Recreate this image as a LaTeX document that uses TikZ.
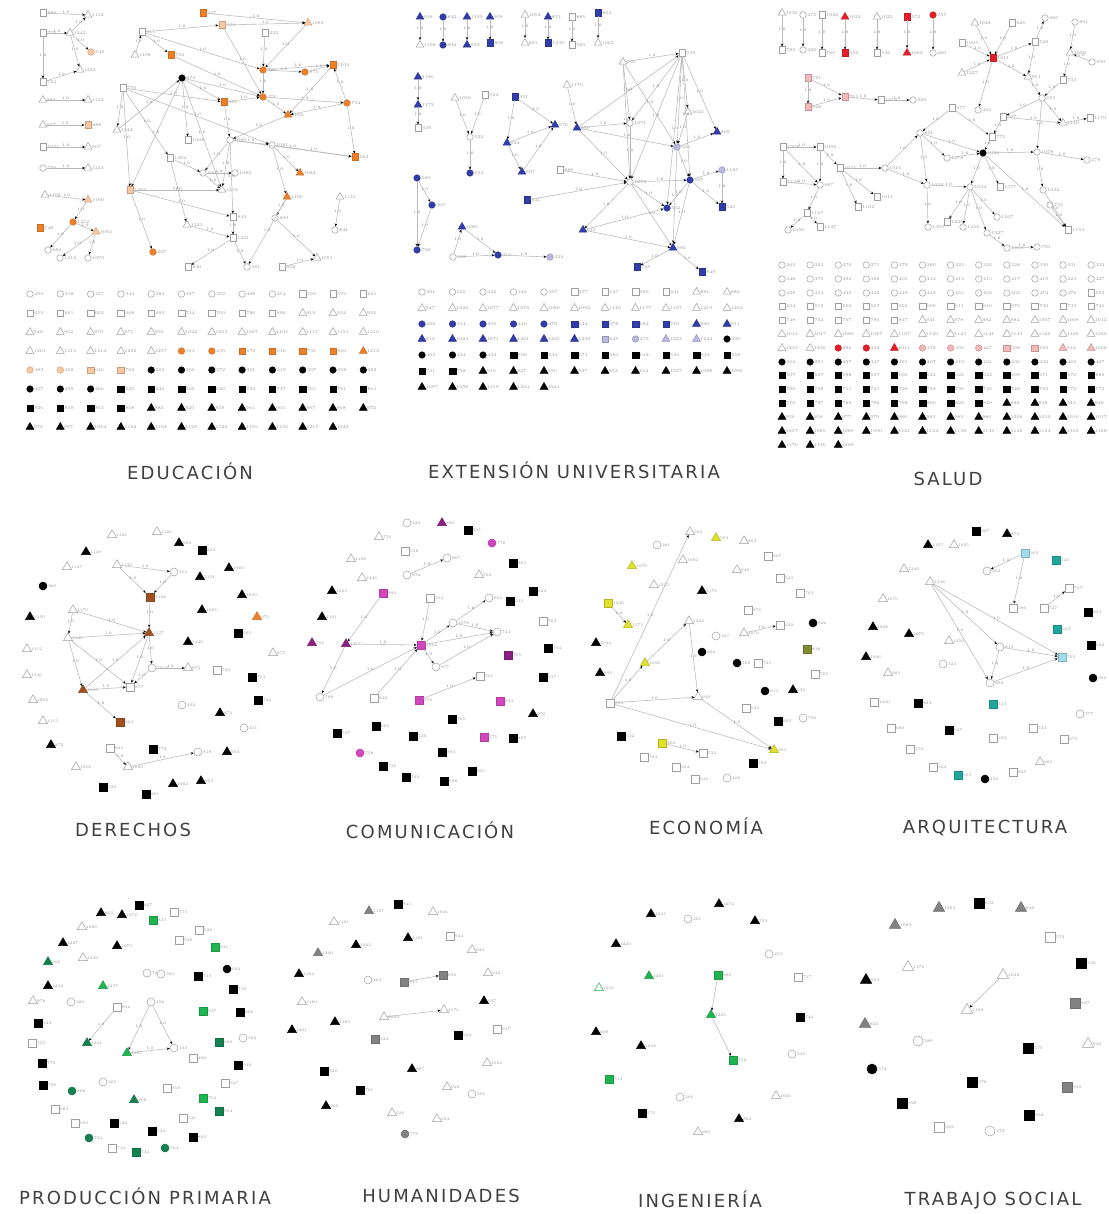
\documentclass[tikz,border=0pt]{standalone}
\usepackage{fontspec}
\newfontfamily\ttlfont[LetterSpace=12]{DejaVu Sans}
\usetikzlibrary{shapes.geometric,arrows.meta}
\definecolor{cOR}{RGB}{240,128,40}
\definecolor{cPE}{RGB}{250,200,160}
\definecolor{cBL}{RGB}{50,60,170}
\definecolor{cLV}{RGB}{185,185,225}
\definecolor{cRD}{RGB}{230,30,40}
\definecolor{cPK}{RGB}{245,185,185}
\definecolor{cBR}{RGB}{160,80,30}
\definecolor{cMG}{RGB}{210,70,190}
\definecolor{cPU}{RGB}{140,30,130}
\definecolor{cYE}{RGB}{225,225,40}
\definecolor{cOL}{RGB}{130,140,50}
\definecolor{cLC}{RGB}{160,220,235}
\definecolor{cTL}{RGB}{30,165,160}
\definecolor{cGN}{RGB}{30,180,80}
\definecolor{cDG}{RGB}{20,130,80}
\definecolor{cGY}{RGB}{130,130,130}
\def\csz{6.5pt}\def\ssz{6.5pt}\def\tsz{9pt}\def\lfs{4.4}
\tikzset{
  C/.style={circle,inner sep=0pt,minimum size=\csz,line width=0.5pt},
  S/.style={rectangle,inner sep=0pt,minimum size=\ssz,line width=0.5pt},
  T/.style={regular polygon,regular polygon sides=3,inner sep=0pt,minimum size=\tsz,line width=0.5pt},
  fOW/.style={draw=gray!75,fill=white},
  fBK/.style={draw=black,fill=black},
  fOR/.style={draw=cOR!85!black,fill=cOR},
  fPE/.style={draw=cPE!80!black,fill=cPE},
  fBL/.style={draw=cBL!85!black,fill=cBL},
  fLV/.style={draw=cLV!80!black,fill=cLV},
  fRD/.style={draw=cRD!85!black,fill=cRD},
  fPK/.style={draw=cPK!80!black,fill=cPK},
  fBR/.style={draw=cBR!85!black,fill=cBR},
  fMG/.style={draw=cMG!85!black,fill=cMG},
  fPU/.style={draw=cPU!85!black,fill=cPU},
  fYE/.style={draw=cYE!80!black,fill=cYE},
  fOL/.style={draw=cOL!80!black,fill=cOL},
  fLC/.style={draw=cLC!80!black,fill=cLC},
  fTL/.style={draw=cTL!85!black,fill=cTL},
  fGN/.style={draw=cGN!85!black,fill=cGN},
  fDG/.style={draw=cDG!85!black,fill=cDG},
  fGY/.style={draw=cGY!85!black,fill=cGY},
  fGO/.style={draw=cGN,fill=white},
  lb/.style={font=\fontsize{\lfs}{\lfs}\selectfont,text=gray!85,inner sep=0.4pt},
  ed/.style={draw=gray!55,line width=0.55pt,-{Stealth[black,length=3pt,width=2.5pt]}},
  el/.style={font=\fontsize{3.8}{4}\selectfont,text=gray!90!black,inner sep=0.3pt,above,pos=0.5},
  ttl/.style={font=\ttlfont\fontsize{18}{18}\selectfont,text=black!75,inner sep=0pt}
}
\newcommand\nd[6]{\node[#1,#2,label={[lb,label distance=0.3pt]0:#6}] (#3) at (#4,#5) {};}
\newcommand\NN[1]{\foreach \n/\s/\c/\x/\y/\l in {#1} {\nd{\s}{\c}{\n}{\x}{\y}{\l}}}
\newcommand\NL[2]{\foreach \s/\c/\x/\y/\l in {#2} {\nd{\s}{\c}{#1\l}{\x}{\y}{\l}}}
\newcommand\GR[4]{\foreach \s/\c/\l [count=\i from 0] in {#4} {\nd{\s}{\c}{g#1y#3n\i}{#1+#2*\i}{#3}{\l}}}
\newcommand\EL[1]{\foreach \a/\b in {#1} {\draw[ed] (\a) -- node[el]{1.0} (\b);}}
\newcommand\EN[1]{\foreach \a/\b in {#1} {\draw[ed] (\a) -- (\b);}}
\begin{document}
\begin{tikzpicture}[x=1pt,y=-1pt]
\fill[white] (0,0) rectangle (1108,1214);
\path[use as bounding box] (0,0) rectangle (1108,1214);

% ================= EDUCACION =================
\NN{a1/S/fOW/43/13/886, a2/T/fOW/88/15/1132, a3/S/fOW/43/33/776, a4/T/fOW/70/33/1242, a5/C/fPE/91/52/645, a6/T/fOW/80/70/1255, a7/S/fOW/43/82/784,
 b1/T/fOW/43/100/885, b2/T/fOW/88/100/1152, b3/T/fOW/43/125/957, b4/S/fPE/88/125/888, b5/S/fOW/43/147/1021, b6/T/fOW/88/147/907, b7/C/fOW/43/168/750, b8/T/fOW/88/168/1243,
 c1/T/fOW/45/195/1104, c2/T/fPE/88/200/1190, c3/S/fOR/40/228/748, c4/C/fOR/73/222/1252, c5/T/fPE/96/232/1092, c6/C/fOW/48/250/886, c7/C/fOW/60/258/1212, c8/C/fOW/88/258/1070}
\EL{a1/a2, a3/a4, a4/a5, a4/a2, a3/a7, a7/a6, a4/a6, b1/b2, b3/b4, b5/b6, b7/b8, c1/c2, c2/c4, c4/c6, c5/c7, c5/c8, c4/c5}
\NN{e1/S/fOR/203/13/237, e2/S/fPE/222/25/604, e3/T/fPE/308/23/1083, e4/S/fOW/142/32/911, e5/T/fOW/135/55/1108, e6/S/fOR/171/55/792,
 e7/S/fOW/265/33/222, e8/C/fOR/263/70/722, e9/C/fOR/305/72/875, e10/S/fOR/333/65/1104, e11/C/fBK/182/78/873, e12/S/fOW/123/88/770,
 e13/S/fOR/224/102/985, e14/C/fOR/263/97/376, e15/C/fOR/347/103/734, e16/T/fOR/288/115/1025, e17/T/fOW/117/130/1244, e18/S/fOW/188/140/1008,
 e19/C/fOW/230/140/1080, e20/C/fOW/272/145/1081, e21/S/fOR/355/157/584, e22/S/fOW/170/158/1202, e23/T/fOR/300/173/1084, e24/C/fOW/203/173/1061,
 e25/C/fOW/235/173/1082, e26/S/fPE/130/190/1062, e27/T/fOW/222/190/1232, e28/T/fOR/287/197/1106, e29/T/fOW/340/197/1133, e30/S/fOW/233/217/843,
 e31/T/fOW/187/225/1243, e32/C/fOW/275/218/890, e33/C/fOW/335/230/841, e34/S/fOW/233/238/1231, e35/C/fOR/153/252/267, e36/S/fOW/188/267/840,
 e37/C/fOW/247/267/361, e38/S/fOW/282/267/562, e39/T/fOW/317/258/1091}
\EL{e1/e3, e2/e3, e4/e2, e5/e4, e4/e6, e4/e8, e6/e14, e2/e14, e7/e8, e8/e9, e8/e10, e9/e10, e8/e14, e11/e13, e11/e14, e11/e18, e11/e26, e11/e27,
 e12/e13, e12/e17, e12/e20, e12/e22, e12/e26, e13/e14, e13/e19, e14/e16, e14/e15, e15/e16, e15/e21, e15/e10, e16/e19, e19/e20, e19/e24,
 e19/e21, e19/e27, e19/e30, e20/e23, e20/e21, e20/e28, e22/e24, e22/e31, e24/e25, e24/e27, e26/e27, e26/e30, e26/e35, e28/e32, e28/e37,
 e29/e33, e30/e34, e31/e34, e34/e36, e34/e37, e32/e39, e38/e39, e17/e11, e10/e16, e3/e8}
\GR{30}{30.3}{294}{C/fOW/299,C/fOW/318,C/fOW/327,C/fOW/343,C/fOW/384,C/fOW/387,C/fOW/392,C/fOW/408,C/fOW/454,S/fOW/565,S/fOW/576,S/fOW/631}
\GR{30}{30.3}{313}{S/fOW/655,S/fOW/661,S/fOW/662,S/fOW/668,S/fOW/693,S/fOW/714,S/fOW/760,S/fOW/786,S/fOW/806,T/fOW/919,T/fOW/924,T/fOW/932}
\GR{30}{30.3}{332}{T/fOW/940,T/fOW/952,T/fOW/970,T/fOW/971,T/fOW/995,T/fOW/1022,T/fOW/1063,T/fOW/1067,T/fOW/1105,T/fOW/1117,T/fOW/1151,T/fOW/1210}
\GR{30}{30.3}{351}{T/fOW/1201,T/fOW/1213,T/fOW/1214,T/fOW/1236,T/fOW/1257,C/fOR/363,C/fOR/439,S/fOR/576,S/fOR/610,S/fOR/735,S/fOR/860,T/fOR/1212}
\GR{30}{30.3}{370}{C/fPE/383,C/fPE/458,S/fPE/646,S/fPE/782,C/fBK/265,C/fBK/266,C/fBK/272,C/fBK/301,C/fBK/319,C/fBK/337,C/fBK/358,C/fBK/362}
\GR{30}{30.3}{389}{C/fBK/457,C/fBK/459,C/fBK/466,S/fBK/525,S/fBK/546,S/fBK/565,S/fBK/629,S/fBK/734,S/fBK/737,S/fBK/763,S/fBK/791,S/fBK/811}
\GR{30}{30.3}{408}{S/fBK/826,S/fBK/839,S/fBK/853,S/fBK/858,T/fBK/885,T/fBK/920,T/fBK/939,T/fBK/961,T/fBK/965,T/fBK/967,T/fBK/968,T/fBK/972}
\GR{30}{30.3}{427}{T/fBK/973,T/fBK/997,T/fBK/1054,T/fBK/1102,T/fBK/1104,T/fBK/1125,T/fBK/1126,T/fBK/1155,T/fBK/1156,T/fBK/1215,T/fBK/1248}
\node[ttl] (tEdu) at (190,471) {EDUCACIÓN};

% ================= EXTENSION =================
\NN{x1/T/fBL/420/17/918, x2/T/fOW/420/45/1198, x3/C/fBL/443/17/842, x4/C/fBL/443/45/902, x5/T/fBL/467/17/1199, x6/T/fBL/467/45/932,
 x7/T/fBL/490/17/909, x8/S/fBL/490/43/808, x9/T/fOW/525/15/1094, x10/T/fOW/525/43/891, x11/T/fBL/548/17/853, x12/S/fBL/548/43/1236,
 x13/S/fOW/572/17/885, x14/S/fOW/572/45/580, x15/S/fBL/598/13/804, x16/T/fOW/598/43/1062,
 x17/T/fBL/418/77/1186, x18/T/fBL/418/105/1172, x19/S/fOW/418/128/659,
 x20/T/fOW/455/98/1050, x21/S/fOW/485/95/524, x22/C/fOW/470/137/522, x23/C/fBL/470/173/594,
 x24/S/fBL/515/97/931, x25/T/fBL/507/143/924, x26/T/fBL/555/125/570, x27/T/fBL/522/172/907,
 x28/C/fBL/417/178/580, x29/C/fBL/432/205/305, x30/C/fBL/417/250/798,
 x31/T/fBL/462/227/1080, x32/C/fOW/453/257/589, x33/C/fBL/498/255/416, x34/C/fLV/550/257/324}
\EL{x1/x2, x3/x4, x5/x6, x7/x8, x9/x10, x11/x12, x13/x14, x15/x16, x17/x18, x18/x19, x20/x22, x21/x22, x22/x23,
 x24/x25, x24/x26, x25/x26, x25/x27, x27/x26, x28/x29, x29/x30, x28/x30, x32/x31, x31/x33, x32/x33, x33/x34}
\NN{m1/S/fOW/560/170/886, m2/S/fBL/527/200/541, m3/T/fOW/567/85/1176, m4/T/fBL/577/128/870, m5/T/fOW/623/62/905, m6/S/fOW/682/53/559,
 m7/T/fOW/688/112/1025, m8/T/fBL/717/132/869, m9/C/fOW/630/123/1071, m10/C/fLV/677/147/656, m11/C/fOW/630/182/1073, m12/C/fBL/690/180/997,
 m13/C/fLV/722/170/1185, m14/S/fBL/722/207/526, m15/C/fBL/667/208/562, m16/T/fBL/583/230/623, m17/T/fBL/673/248/995, m18/S/fBL/637/267/725,
 m19/S/fBL/702/272/849}
\EL{m3/m4, m4/m9, m4/m10, m4/m6, m4/m11, m5/m6, m5/m9, m5/m10, m5/m11, m6/m9, m6/m7, m6/m8, m6/m10, m6/m12, m6/m11, m6/m15,
 m7/m10, m10/m8, m10/m12, m10/m17, m9/m11, m11/m12, m1/m11, m2/m11, m11/m16, m11/m15, m11/m17, m12/m14, m12/m13, m13/m14,
 m16/m15, m16/m17, m12/m17, m17/m18, m17/m19, m12/m15}
\GR{422}{30.5}{292}{C/fOW/301,C/fOW/325,C/fOW/342,C/fOW/346,C/fOW/357,S/fOW/477,S/fOW/547,S/fOW/589,S/fOW/641,T/fOW/881,T/fOW/886}
\GR{422}{30.5}{308}{T/fOW/947,T/fOW/1020,T/fOW/1077,T/fOW/1079,T/fOW/1080,T/fOW/1092,T/fOW/1146,T/fOW/1177,T/fOW/1197,T/fOW/1219,T/fOW/1252}
\GR{422}{30.5}{324}{C/fBL/268,C/fBL/314,C/fBL/369,C/fBL/440,C/fBL/470,S/fBL/544,S/fBL/678,S/fBL/682,S/fBL/750,T/fBL/890,T/fBL/911}
\GR{422}{30.5}{339}{T/fBL/913,T/fBL/1024,T/fBL/1071,T/fBL/1201,T/fBL/1205,T/fBL/1238,S/fLV/545,C/fLV/473,T/fLV/1223,T/fLV/1224,C/fBK/336}
\GR{422}{30.5}{355}{C/fBK/403,C/fBK/424,C/fBK/434,S/fBK/500,S/fBK/534,S/fBK/571,S/fBK/583,S/fBK/618,S/fBK/625,S/fBK/643,S/fBK/658}
\GR{422}{30.5}{371}{S/fBK/731,S/fBK/758,T/fBK/910,T/fBK/927,T/fBK/930,T/fBK/937,T/fBK/953,T/fBK/954,T/fBK/1027,T/fBK/1088,T/fBK/1095}
\GR{422}{30.5}{387}{T/fBK/1097,T/fBK/1098,T/fBK/1159,T/fBK/1204,T/fBK/1241}
\node[ttl] (tExt) at (574,470) {EXTENSIÓN UNIVERSITARIA};

% ================= SALUD =================
\NN{s1/T/fOW/782/13/1035, s2/S/fOW/782/50/783, s3/C/fOW/803/15/475, s4/C/fOW/803/50/426, s5/S/fOW/822/15/1026, s6/S/fOW/822/53/766,
 s7/T/fRD/845/17/1024, s8/S/fRD/845/53/559, s9/T/fOW/877/17/1025, s10/S/fOW/877/53/536, s11/S/fRD/907/17/572, s12/T/fRD/907/53/1063,
 s13/C/fRD/933/15/757, s14/C/fOW/933/53/280,
 p1/S/fPK/808/78/751, p2/S/fPK/808/107/928, p3/S/fPK/845/97/763, p4/S/fOW/881/100/1019, p5/C/fOW/913/100/329}
\EL{s1/s2, s3/s4, s5/s6, s7/s8, s9/s10, s11/s12, s13/s14, p1/p2, p1/p3, p2/p3, p3/p4, p4/p5}
\NN{h1/T/fOW/975/23/1028, h2/S/fOW/1012/23/826, h3/C/fOW/1045/18/906, h4/C/fOW/1075/22/891, h5/S/fOW/962/43/1005, h6/S/fRD/993/58/1011,
 h7/T/fOW/962/73/1227, h8/S/fOW/1035/42/528, h9/T/fOW/1070/53/1059, h10/C/fOW/1092/62/990, h11/T/fOW/1028/77/951, h12/S/fOW/1063/80/733,
 h13/C/fOW/1042/98/659, h14/S/fOW/952/108/377, h15/C/fOW/978/110/435, h16/S/fOW/1003/117/737, h17/T/fOW/1063/123/1149, h18/S/fOW/1090/118/1170,
 h19/C/fOW/920/133/851, h20/S/fOW/992/137/775, h21/C/fBK/983/153/1026, h22/C/fOW/947/158/1278, h23/C/fOW/1037/152/1078, h24/C/fOW/1087/160/278,
 h25/S/fOW/783/147/1208, h26/S/fOW/820/147/1092, h27/S/fOW/840/168/1021, h28/C/fOW/885/168/1016, h29/S/fOW/783/182/1128, h30/C/fOW/820/185/887,
 h31/C/fOW/927/185/1029, h32/C/fOW/970/187/1034, h33/S/fOW/1000/187/1077, h34/C/fOW/1043/190/1032, h35/S/fOW/877/197/1011, h36/S/fOW/858/207/1102,
 h37/S/fOW/807/213/1167, h38/C/fOW/788/230/1056, h39/S/fOW/820/227/1147, h40/C/fOW/928/227/1303, h41/S/fOW/947/222/1226, h42/C/fOW/963/227/1255,
 h43/C/fOW/997/217/1267, h44/C/fOW/987/233/1327, h45/C/fOW/1007/248/1018, h46/C/fOW/1037/247/790, h47/S/fOW/1068/230/1153, h48/C/fOW/1050/205/735}
\EL{h5/h6, h7/h6, h1/h6, h2/h6, h6/h8, h8/h3, h6/h11, h6/h15, h8/h11, h9/h12, h10/h9, h4/h9, h12/h13, h11/h13, h13/h16, h13/h17, h16/h17,
 h17/h18, h13/h23, h14/h19, h14/h20, h16/h20, h20/h21, h19/h21, h19/h22, h19/h31, h22/h21, h21/h23, h23/h24, h21/h33, h21/h32, h21/h47,
 h23/h34, h25/h26, h25/h29, h25/h30, h26/h30, h26/h27, h27/h28, h29/h30, h30/h37, h27/h36, h27/h35, h28/h19, h28/h31, h31/h32,
 h31/h40, h32/h41, h32/h42, h32/h43, h32/h44, h44/h45, h45/h46, h37/h38, h37/h39, h34/h47, h48/h47}
\GR{782}{28.1}{265}{C/fOW/263,C/fOW/264,C/fOW/270,C/fOW/271,C/fOW/279,C/fOW/280,C/fOW/323,C/fOW/326,C/fOW/328,C/fOW/330,C/fOW/331,C/fOW/333}
\GR{782}{28.1}{279}{C/fOW/348,C/fOW/375,C/fOW/386,C/fOW/388,C/fOW/405,C/fOW/412,C/fOW/413,C/fOW/415,C/fOW/417,C/fOW/419,C/fOW/423,C/fOW/427}
\GR{782}{28.1}{293}{C/fOW/428,C/fOW/433,C/fOW/436,C/fOW/442,C/fOW/448,C/fOW/449,C/fOW/455,C/fOW/456,C/fOW/462,C/fOW/474,C/fOW/476,S/fOW/502}
\GR{782}{28.1}{306}{S/fOW/504,S/fOW/519,S/fOW/566,S/fOW/567,S/fOW/593,S/fOW/609,S/fOW/611,S/fOW/616,S/fOW/679,S/fOW/730,S/fOW/733,S/fOW/741}
\GR{782}{28.1}{320}{S/fOW/748,S/fOW/752,S/fOW/757,S/fOW/786,S/fOW/817,T/fOW/941,T/fOW/978,T/fOW/982,T/fOW/984,T/fOW/1007,T/fOW/1009,T/fOW/1012}
\GR{782}{28.1}{334}{T/fOW/1013,T/fOW/1047,T/fOW/1086,T/fOW/1087,T/fOW/1107,T/fOW/1120,T/fOW/1123,T/fOW/1141,T/fOW/1143,T/fOW/1166,T/fOW/1169,T/fOW/1200}
\GR{782}{28.1}{348}{T/fOW/1233,T/fOW/1256,C/fRD/286,C/fRD/344,T/fRD/1011,C/fPK/376,C/fPK/395,C/fPK/447,S/fPK/598,S/fPK/599,T/fPK/912,T/fPK/1008}
\GR{782}{28.1}{362}{C/fBK/262,C/fBK/291,C/fBK/297,C/fBK/347,C/fBK/391,C/fBK/407,C/fBK/416,C/fBK/421,C/fBK/430,C/fBK/432,C/fBK/462,C/fBK/467}
\GR{782}{28.1}{375}{S/fBK/507,S/fBK/567,S/fBK/588,S/fBK/597,S/fBK/606,S/fBK/624,S/fBK/625,S/fBK/642,S/fBK/669,S/fBK/671,S/fBK/672,S/fBK/683}
\GR{782}{28.1}{389}{S/fBK/706,S/fBK/708,S/fBK/711,S/fBK/721,S/fBK/726,S/fBK/729,S/fBK/736,S/fBK/745,S/fBK/748,S/fBK/756,S/fBK/772,S/fBK/775}
\GR{782}{28.1}{403}{S/fBK/776,S/fBK/787,S/fBK/789,S/fBK/796,S/fBK/798,S/fBK/800,S/fBK/829,S/fBK/849,T/fBK/888,T/fBK/938,T/fBK/943,T/fBK/949}
\GR{782}{28.1}{417}{T/fBK/956,T/fBK/958,T/fBK/977,T/fBK/979,T/fBK/980,T/fBK/983,T/fBK/985,T/fBK/986,T/fBK/1008,T/fBK/1010,T/fBK/1016,T/fBK/1017}
\GR{782}{28.1}{431}{T/fBK/1057,T/fBK/1085,T/fBK/1089,T/fBK/1090,T/fBK/1121,T/fBK/1124,T/fBK/1138,T/fBK/1139,T/fBK/1140,T/fBK/1164,T/fBK/1165,T/fBK/1168}
\GR{782}{28.1}{445}{T/fBK/1176,T/fBK/1196,T/fBK/1209}
\node[ttl] (tSal) at (948,479) {SALUD};

% ================= DERECHOS =================
\begin{scope}
\def\csz{8pt}\def\ssz{8pt}\def\tsz{10.5pt}\def\lfs{4}
\NL{d}{T/fOW/112/535/1125, T/fOW/157/532/1126, T/fBK/179/543/906, S/fBK/202/550/852, T/fBK/86/552/1149, T/fOW/67/567/1147, T/fOW/117/565/1130,
 C/fOW/174/572/405, T/fBK/200/577/1131, T/fBK/229/568/1066, C/fBK/43/586/380, S/fBR/150/597/1128, T/fBK/242/595/1059, T/fOW/73/610/1176,
 T/fBK/30/617/1150, T/fBK/202/610/1065, T/fOR/257/617/871, T/fBR/149/633/1127, S/fBK/238/633/905, T/fOW/68/638/1145, T/fBK/188/642/1140,
 T/fOW/27/649/1112, T/fOW/273/653/875, C/fOW/152/668/1013, T/fOW/188/668/873, S/fOW/217/670/726, T/fOW/27/675/1146, S/fBK/252/677/763,
 T/fBR/83/690/1003, S/fOW/130/687/877, T/fOW/33/700/1062, S/fBK/258/700/722, C/fOW/182/705/452, T/fBK/220/713/874, S/fBR/120/722/663,
 T/fOW/43/721/1113, C/fOW/244/728/451, T/fBK/51/745/872, S/fOW/110/748/893, S/fBK/153/749/772, C/fOW/198/752/818, T/fBK/227/752/903,
 T/fOW/76/767/1058, T/fOW/128/767/1060, T/fBK/173/784/1082, T/fBK/201/781/963, S/fBK/103/787/720, S/fBK/146/794/801}
\EL{d1130/d405, d405/d1128, d1130/d1128, d1128/d1127, d1176/d1127, d1145/d1127, d1176/d1145, d1145/d1003, d1145/d877, d1003/d1127,
 d1127/d1013, d1127/d877, d1013/d877, d1013/d873, d1003/d877, d1003/d663, d893/d1060, d1060/d818}
\end{scope}
\node[ttl] (tDer) at (133,830) {DERECHOS};

% ================= COMUNICACION =================
\begin{scope}
\def\csz{8pt}\def\ssz{8pt}\def\tsz{10.5pt}\def\lfs{4}
\NL{k}{C/fOW/407/523/240, T/fPU/442/523/890, S/fBK/468/530/911, T/fOW/379/537/756, C/fMG/492/543/778, S/fOW/405/551/538, T/fOW/351/559/1108,
 C/fOW/447/558/807, S/fBK/513/563/853, C/fOW/407/575/872, T/fOW/479/575/762, T/fOW/362/578/1246, T/fBK/332/591/1023, S/fMG/383/593/892,
 S/fBK/533/591/824, S/fOW/430/598/554, C/fOW/489/598/865, S/fBK/510/601/535, T/fBK/322/617/1161, S/fOW/543/621/704, C/fOW/453/623/1078,
 C/fOW/497/632/743, T/fPU/312/643/766, T/fPU/346/644/1217, S/fMG/421/645/1064, S/fBK/548/648/794, S/fPU/508/655/755, C/fOW/436/667/877,
 S/fBK/543/677/917, S/fOW/480/676/565, C/fOW/320/697/788, S/fOW/374/698/820, S/fMG/419/700/956, S/fMG/500/701/833, T/fBK/533/714/970,
 S/fBK/452/719/785, S/fBK/337/733/597, S/fBK/376/726/905, S/fBK/413/736/726, S/fMG/484/737/775, S/fBK/513/738/867, C/fMG/360/753/738,
 S/fBK/442/752/893, S/fBK/383/766/736, S/fBK/472/771/851, S/fBK/406/777/792, S/fBK/444/781/598}
\EL{k872/k807, k892/k1217, k1217/k788, k1217/k1064, k554/k1064, k788/k1064, k820/k1064, k1064/k1078, k1078/k865, k1064/k743,
 k1078/k743, k1064/k877, k877/k743, k956/k565}
\end{scope}
\node[ttl] (tCom) at (430,830) {COMUNICACIÓN};

% ================= ECONOMIA =================
\begin{scope}
\def\csz{8pt}\def\ssz{8pt}\def\tsz{10.5pt}\def\lfs{4}
\NL{q}{T/fOW/690/532/902, T/fYE/716/538/503, T/fOW/744/541/804, C/fOW/657/545/281, S/fOW/768/556/807, T/fOW/683/560/1082, T/fYE/632/566/1078,
 T/fOW/737/570/940, S/fOW/780/578/523, T/fOW/654/585/1225, T/fBK/702/591/1176, S/fOW/800/593/763, S/fYE/608/603/1236, S/fOW/748/610/876,
 T/fOW/689/621/1222, T/fYE/628/625/1173, C/fOW/716/636/367, T/fOW/744/633/1070, S/fOW/780/625/620, C/fBK/813/623/822, T/fBK/596/643/1034,
 C/fBK/702/652/836, S/fOL/807/649/838, T/fYE/645/663/1068, C/fBK/737/663/768, S/fOW/758/663/723, T/fBK/600/673/895, S/fOW/815/674/705,
 C/fBK/765/691/813, T/fBK/793/690/936, T/fOW/698/697/930, S/fOW/610/703/814, S/fOW/746/708/645, S/fBK/778/721/903, C/fOW/803/718/790,
 S/fBK/621/736/632, S/fYE/662/743/802, S/fOW/703/753/532, T/fYE/774/750/803, S/fBK/753/763/783, S/fOW/644/757/704, S/fOW/676/767/604,
 S/fOW/695/779/646, C/fOW/727/778/400}
\EL{q814/q902, q1236/q1173, q1070/q620, q814/q1068, q1068/q1222, q1222/q930, q814/q930, q814/q803, q930/q803, q802/q532}
\end{scope}
\node[ttl] (tEco) at (706,826) {ECONOMÍA};

% ================= ARQUITECTURA =================
\begin{scope}
\def\csz{8pt}\def\ssz{8pt}\def\tsz{10.5pt}\def\lfs{4}
\NL{r}{S/fBK/976/531/907, T/fBK/1007/534/876, T/fBK/928/545/1157, T/fOW/954/545/1025, S/fLC/1025/553/963, S/fTL/1056/560/525, T/fOW/904/569/1240,
 C/fOW/987/571/902, T/fOW/930/582/1238, S/fOW/1069/588/767, T/fOW/883/599/1076, S/fOW/1013/608/580, S/fOW/1044/608/527, S/fBK/1088/612/953,
 S/fTL/1057/629/663, T/fBK/873/627/1028, T/fBK/909/634/1075, T/fOW/949/641/1250, C/fOW/1000/647/813, S/fBK/1091/645/548, T/fBK/866/657/1096,
 S/fLC/1062/657/763, C/fOW/943/664/323, T/fOW/888/673/983, C/fOW/990/683/888, C/fBK/1093/678/396, S/fOW/874/702/1200, S/fBK/918/703/884,
 S/fTL/993/704/513, C/fOW/1080/714/777, S/fOW/891/728/680, S/fBK/949/730/627, S/fOW/1033/728/723, S/fOW/993/738/633, S/fOW/1064/739/673,
 S/fOW/910/749/570, T/fOW/1040/762/985, S/fOW/933/767/604, S/fTL/958/775/603, S/fOW/1013/772/825, C/fBK/985/779/450}
\EL{r963/r902, r963/r580, r527/r767, r1238/r813, r1238/r888, r1238/r763, r813/r888, r813/r763, r888/r763}
\end{scope}
\node[ttl] (tArq) at (985,828) {ARQUITECTURA};

% ================= PRODUCCION PRIMARIA =================
\begin{scope}
\def\csz{8pt}\def\ssz{8pt}\def\tsz{10.5pt}\def\lfs{4}
\NL{p}{S/fBK/139/905/827, T/fBK/101/913/862, T/fBK/122/915/1072, S/fGN/153/920/837, S/fOW/174/912/773, T/fOW/82/927/1089, S/fOW/199/930/526,
 T/fBK/63/943/1227, T/fBK/117/946/1073, S/fOW/179/940/538, S/fGN/215/947/841, T/fDG/48/962/950, T/fOW/83/958/1239, C/fOW/147/973/723,
 C/fOW/161/974/382, C/fBK/227/969/924, S/fBK/198/976/713, T/fGN/103/986/1237, T/fBK/48/986/1234, S/fBK/233/989/718, T/fOW/33/1001/878,
 C/fOW/71/1002/380, S/fOW/117/1007/832, C/fOW/151/1002/458, S/fGN/203/1011/937, S/fBK/240/1012/906, S/fBK/38/1023/944, T/fDG/87/1043/1221,
 T/fGN/127/1053/1087, C/fOW/174/1048/333, S/fOW/32/1043/753, S/fDG/219/1042/989, C/fOW/243/1038/384, S/fOW/193/1058/490, S/fBK/42/1063/776,
 S/fBK/238/1065/940, S/fBK/43/1085/700, C/fDG/72/1091/868, C/fOW/103/1082/305, S/fOW/167/1088/859, S/fOW/225/1083/527, T/fDG/134/1100/908,
 S/fGN/203/1098/752, S/fOW/55/1109/983, S/fDG/219/1111/994, S/fOW/75/1123/656, S/fBK/114/1123/522, S/fOW/183/1118/521, S/fBK/152/1131/534,
 S/fBK/193/1137/863, C/fDG/89/1138/754, S/fOW/112/1148/712, S/fDG/136/1152/734, C/fDG/165/1148/504}
\EL{p832/p1221, p458/p1087, p458/p333, p1087/p333}
\end{scope}
\node[ttl] (tPro) at (145,1196) {PRODUCCIÓN PRIMARIA};

% ================= HUMANIDADES =================
\begin{scope}
\def\csz{8pt}\def\ssz{8pt}\def\tsz{10.5pt}\def\lfs{4}
\NL{u}{T/fGY/369/911/1167, S/fBK/398/904/841, T/fOW/433/912/1046, T/fOW/334/922/1191, T/fBK/356/945/1262, T/fBK/408/938/1181, S/fOW/450/936/943,
 T/fGY/318/953/1200, T/fOW/472/950/923, T/fBK/299/974/1184, C/fOW/368/980/463, S/fGY/404/982/893, S/fGY/443/975/836, T/fOW/488/973/942,
 T/fOW/302/1002/1180, T/fBK/484/1001/927, T/fBK/335/1022/1183, T/fOW/384/1017/1024, T/fOW/444/1010/1176, T/fBK/292/1030/1201, S/fOW/497/1029/917,
 S/fGY/375/1039/524, S/fBK/458/1035/924, T/fOW/487/1063/1062, S/fBK/324/1071/526, T/fBK/412/1069/887, S/fBK/360/1090/761, T/fOW/447/1087/928,
 C/fOW/472/1094/395, T/fBK/326/1106/929, T/fOW/392/1113/926, T/fOW/437/1119/564, C/fGY/405/1134/775}
\EN{u893/u836, u1024/u1176}
\end{scope}
\node[ttl] (tHum) at (441,1196) {HUMANIDADES};

% ================= INGENIERIA =================
\begin{scope}
\def\csz{8pt}\def\ssz{8pt}\def\tsz{10.5pt}\def\lfs{4}
\NL{i}{T/fBK/719/904/1074, T/fBK/651/914/1065, C/fOW/688/919/261, T/fBK/755/921/763, T/fBK/616/944/1226, C/fOW/769/954/253, T/fGN/649/976/1201,
 S/fGN/718/975/866, S/fOW/798/977/717, T/fGO/599/988/1056, T/fGN/711/1015/1225, S/fBK/800/1017/744, T/fBK/596/1032/908, T/fBK/641/1046/1038,
 S/fGN/733/1060/752, C/fOW/792/1054/345, S/fGN/609/1079/513, T/fOW/776/1096/1026, C/fOW/680/1097/260, S/fBK/642/1113/576, T/fBK/739/1119/862,
 T/fOW/698/1132/980}
\EN{i866/i1225, i1225/i752}
\end{scope}
\node[ttl] (tIng) at (700,1199) {INGENIERÍA};

% ================= TRABAJO SOCIAL =================
\begin{scope}
\def\csz{10pt}\def\ssz{10pt}\def\tsz{13pt}\def\lfs{4.2}
\NL{t}{T/fGY/939/908/1265, S/fBK/979/903/852, T/fGY/1021/908/940, T/fGY/895/925/1083, S/fOW/1050/937/574, T/fOW/908/967/1176, S/fBK/1081/963/530,
 T/fOW/1003/975/1048, T/fBK/866/980/963, S/fGY/1075/1003/847, T/fOW/967/1010/1129, T/fGY/865/1024/925, C/fOW/918/1041/380, S/fBK/1028/1048/575,
 T/fOW/1088/1044/926, C/fBK/872/1069/374, S/fBK/972/1082/376, S/fGY/1067/1087/929, S/fBK/902/1103/928, S/fBK/1029/1115/934, S/fOW/939/1127/923,
 C/fOW/990/1131/372}
\EN{t1048/t1129}
\end{scope}
\node[ttl] (tTra) at (993,1201) {TRABAJO SOCIAL};
\end{tikzpicture}
\end{document}
